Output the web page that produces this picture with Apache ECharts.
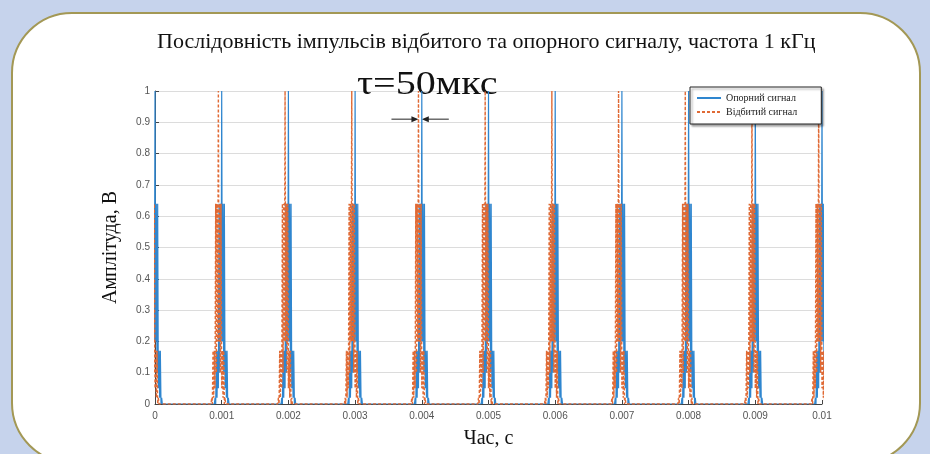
<!DOCTYPE html>
<html>
<head>
<meta charset="utf-8">
<script src="https://cdn.jsdelivr.net/npm/echarts@6/dist/echarts.min.js"></script>
<style>
html,body{margin:0;padding:0;background:#c6d3ec;}
#chart{width:930px;height:454px;}
</style>
</head>
<body>
<div id="chart"></div>
<script>
// моменти імпульсів, мс
var pulseTimesMs = [0, 1, 2, 3, 4, 5, 6, 7, 8, 9, 10];
// форма опорного імпульсу (зсув, мкс -> амплітуда, В)
var refOffsetsUs = [-110, -100, -90, -80, -70, -60, -50, -40, -30, -20, -10, 0, 10, 20, 30, 40, 50, 60, 70, 80, 90, 100, 110];
var refShape     = [0, 0.02, 0, 0.17, 0.02, 0.17, 0.05, 0.64, 0.1, 0.64, 0.2, 1, 0.2, 0.64, 0.1, 0.64, 0.05, 0.17, 0.02, 0.17, 0, 0.02, 0];
// відбитий сигнал: та сама форма, зсув tau
var tauUs = -50;
var echoShape    = [0, 0.02, 0, 0.17, 0.02, 0.17, 0.05, 0.64, 0.1, 0.64, 0.2, 1, 0.2, 0.64, 0.1, 0.64, 0.05, 0.17, 0.02, 0.17, 0, 0.02, 0];
var xTickLabels = ['0', '0.001', '0.002', '0.003', '0.004', '0.005', '0.006', '0.007', '0.008', '0.009', '0.01'];
var yTickLabels = ['0', '0.1', '0.2', '0.3', '0.4', '0.5', '0.6', '0.7', '0.8', '0.9', '1'];

function buildTrain(shape, shiftUs) {
    var pts = [];
    for (var k = 0; k < pulseTimesMs.length; k++) {
        for (var i = 0; i < refOffsetsUs.length; i++) {
            var x = pulseTimesMs[k] / 1000 + (refOffsetsUs[i] + shiftUs) / 1e6;
            pts.push([x, shape[i]]);
        }
    }
    return pts;
}

var serif = "'Liberation Serif', 'Times New Roman', serif";
var myChart = echarts.init(document.getElementById('chart'));

var option = {
    backgroundColor: '#c6d3ec',
    animation: false,
    title: {
        text: 'Послідовність імпульсів відбитого та опорного сигналу, частота 1 кГц',
        left: 152,
        top: 26,
        textStyle: {fontFamily: serif, fontSize: 22, fontWeight: 'normal', color: '#111'}
    },
    legend: {
        orient: 'vertical',
        left: 690,
        top: 87,
        itemGap: 4,
        itemWidth: 24,
        itemHeight: 8,
        padding: [6, 24, 7, 6],
        backgroundColor: '#fff',
        borderColor: '#222',
        borderWidth: 1,
        shadowColor: 'rgba(0,0,0,0.35)',
        shadowOffsetX: 2,
        shadowOffsetY: 2,
        shadowBlur: 2,
        itemStyle: {opacity: 0},
        textStyle: {fontFamily: serif, fontSize: 10, color: '#222'},
        data: ['Опорний сигнал', 'Відбитий сигнал']
    },
    grid: {left: 155, right: 108, top: 91, bottom: 47},
    xAxis: {
        type: 'value',
        min: 0, max: 0.01, interval: 0.001,
        name: 'Час, с',
        nameLocation: 'middle',
        nameGap: 25,
        nameTextStyle: {fontFamily: serif, fontSize: 20, color: '#111'},
        axisLine: {lineStyle: {color: '#444'}},
        axisTick: {inside: true, length: 4},
        splitLine: {show: false},
        axisLabel: {
            fontSize: 10, color: '#555', margin: 7,
            formatter: function (v) { return xTickLabels[Math.round(v * 1000)]; }
        }
    },
    yAxis: {
        type: 'value',
        min: 0, max: 1, interval: 0.1,
        name: 'Амплітуда, В',
        nameLocation: 'middle',
        nameGap: 34,
        nameTextStyle: {fontFamily: serif, fontSize: 20, color: '#111'},
        axisLine: {show: true, lineStyle: {color: '#444'}},
        axisTick: {show: true, inside: true, length: 4},
        splitLine: {lineStyle: {color: '#dcdcdc'}},
        axisLabel: {
            fontSize: 10, color: '#555', margin: 5,
            formatter: function (v) { return yTickLabels[Math.round(v * 10)]; }
        }
    },
    series: [
        {
            name: 'Опорний сигнал',
            type: 'line',
            symbol: 'none',
            data: buildTrain(refShape, 0),
            lineStyle: {color: '#2f86cf', width: 1.2},
            itemStyle: {color: '#2f86cf'}
        },
        {
            name: 'Відбитий сигнал',
            type: 'line',
            symbol: 'none',
            data: buildTrain(echoShape, tauUs),
            lineStyle: {color: '#e06a35', width: 1.4, type: [3, 2]},
            itemStyle: {color: '#e06a35'}
        }
    ]
};
myChart.setOption(option);

// підпис tau зі стрілками
var pL = myChart.convertToPixel({gridIndex: 0}, [0.004 + tauUs / 1e6, 0.91]);
var pR = myChart.convertToPixel({gridIndex: 0}, [0.004, 0.91]);
myChart.setOption({
    graphic: [
        {
            type: 'rect', z: -10,
            shape: {x: 12, y: 13, width: 908, height: 450, r: 60},
            style: {fill: '#fff', stroke: '#a39855', lineWidth: 2}
        },
        {
            type: 'text', x: 357, y: 68, scaleX: 1.18,
            style: {text: 'τ=50мкс', font: '34px ' + serif, fill: '#111'}
        },
        {
            type: 'line',
            shape: {x1: pL[0] - 27, y1: pL[1], x2: pL[0] - 5, y2: pL[1]},
            style: {stroke: '#222', lineWidth: 1}
        },
        {
            type: 'polygon',
            shape: {points: [[pL[0], pL[1]], [pL[0] - 7, pL[1] - 3], [pL[0] - 7, pL[1] + 3]]},
            style: {fill: '#222'}
        },
        {
            type: 'line',
            shape: {x1: pR[0] + 27, y1: pR[1], x2: pR[0] + 5, y2: pR[1]},
            style: {stroke: '#222', lineWidth: 1}
        },
        {
            type: 'polygon',
            shape: {points: [[pR[0], pR[1]], [pR[0] + 7, pR[1] - 3], [pR[0] + 7, pR[1] + 3]]},
            style: {fill: '#222'}
        }
    ]
});
</script>
</body>
</html>
